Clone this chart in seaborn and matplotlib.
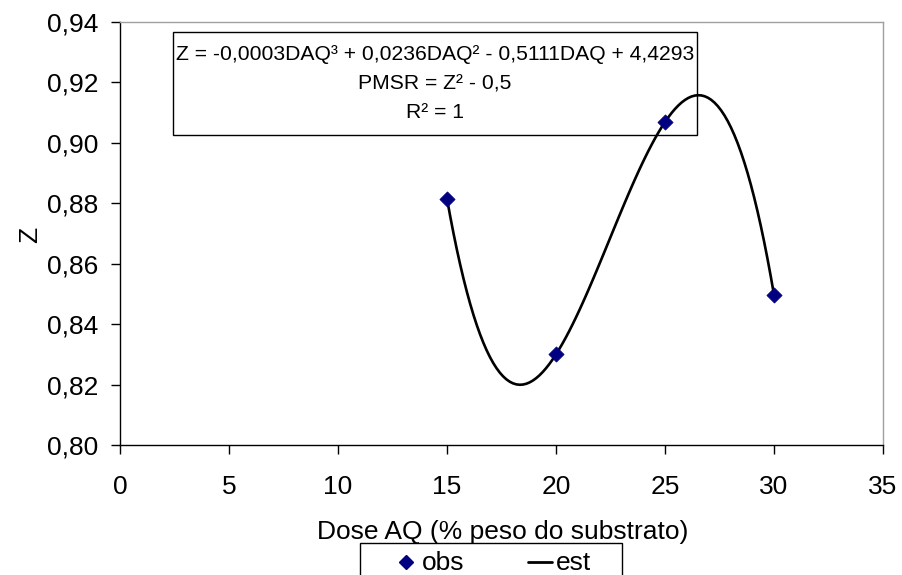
import matplotlib
matplotlib.use("Agg")
import matplotlib.pyplot as plt
import seaborn as sns
import pandas as pd
from matplotlib.lines import Line2D
from matplotlib.patches import Rectangle
from matplotlib.ticker import FuncFormatter

# ---- data ----
dose = [15, 20, 25, 30]
z_obs = [0.8815, 0.8300, 0.9069, 0.8497]
x_ticks = [0, 5, 10, 15, 20, 25, 30, 35]
y_ticks = [0.80, 0.82, 0.84, 0.86, 0.88, 0.90, 0.92, 0.94]
eq_lines = [
    "Z = -0,0003DAQ³ + 0,0236DAQ² - 0,5111DAQ + 4,4293",
    "PMSR = Z² - 0,5",
    "R² = 1",
]
x_label = "Dose AQ (% peso do substrato)"
y_label = "Z"
legend_labels = ["obs", "est"]

df = pd.DataFrame({"dose": dose, "z": z_obs})

sns.set_style("white")
plt.rcParams["font.family"] = ["Liberation Sans", "DejaVu Sans"]
plt.rcParams["text.color"] = "black"
plt.rcParams["xtick.color"] = "black"
plt.rcParams["ytick.color"] = "black"

W, H = 903, 575
fig = plt.figure(figsize=(W / 100, H / 100), dpi=100)
ax = fig.add_axes([120 / W, 1 - 445 / H, (883 - 120) / W, (445 - 22) / H])

NAVY = "#000080"

# fitted cubic (estimated curve)
sns.regplot(data=df, x="dose", y="z", order=3, ci=None, scatter=False,
            truncate=True, line_kws=dict(color="black", lw=1.9, zorder=3), ax=ax)
# observed points
sns.scatterplot(data=df, x="dose", y="z", marker="D", color=NAVY,
                s=60, edgecolor=NAVY, linewidth=0.5, zorder=5, ax=ax)

ax.set_xlim(0, 35)
ax.set_ylim(0.80, 0.94)
ax.set_xticks(x_ticks)
ax.set_yticks(y_ticks)
ax.yaxis.set_major_formatter(FuncFormatter(lambda v, p: f"{v:.2f}".replace(".", ",")))
ax.xaxis.set_major_formatter(FuncFormatter(lambda v, p: f"{v:.0f}"))
ax.set_xlabel("")
ax.set_ylabel("")
ax.tick_params(axis="both", which="major", labelsize=19, direction="out",
               length=6.5, width=1, color="black", labelcolor="black")
ax.tick_params(axis="x", pad=15)
ax.tick_params(axis="y", pad=9)
ax.xaxis.set_ticks_position("bottom")
ax.yaxis.set_ticks_position("left")

for side in ["left", "bottom"]:
    ax.spines[side].set_color("black")
    ax.spines[side].set_linewidth(1.0)
for side in ["top", "right"]:
    ax.spines[side].set_color("#a0a0a0")
    ax.spines[side].set_linewidth(1.0)

# axis labels
fig.text(503 / W, 1 - 539 / H, x_label, ha="center", va="baseline", fontsize=19)
fig.text(30 / W, 1 - 235 / H, y_label, ha="center", va="center", fontsize=19,
         rotation=90)

# equation box (behind the data)
ax.add_patch(Rectangle((173 / W, 1 - 135 / H), (697 - 173) / W, (135 - 32) / H,
                       transform=fig.transFigure, facecolor="white",
                       edgecolor="black", linewidth=1.0, zorder=1))
for txt, yp in zip(eq_lines, [55, 84, 113]):
    ax.text(435 / W, 1 - yp / H, txt, ha="center", va="center", fontsize=15.2,
            transform=fig.transFigure, zorder=1.5)

# legend box (bottom, partly cut off like the reference)
fig.patches.append(Rectangle((360 / W, 1 - 590 / H), (622 - 360) / W, (590 - 543) / H,
                             transform=fig.transFigure, facecolor="white",
                             edgecolor="black", linewidth=1.0))
ly = 1 - 562 / H
lb = 1 - 570 / H
fig.add_artist(Line2D([406 / W], [ly], marker="D", color=NAVY, markersize=7.5,
                      linestyle="none", transform=fig.transFigure))
fig.text(422 / W, lb, legend_labels[0], ha="left", va="baseline", fontsize=19)
fig.add_artist(Line2D([528 / W, 552 / W], [ly, ly], color="black", lw=2.0,
                      transform=fig.transFigure))
fig.text(556 / W, lb, legend_labels[1], ha="left", va="baseline", fontsize=19)

fig.savefig("out.png", dpi=100)
